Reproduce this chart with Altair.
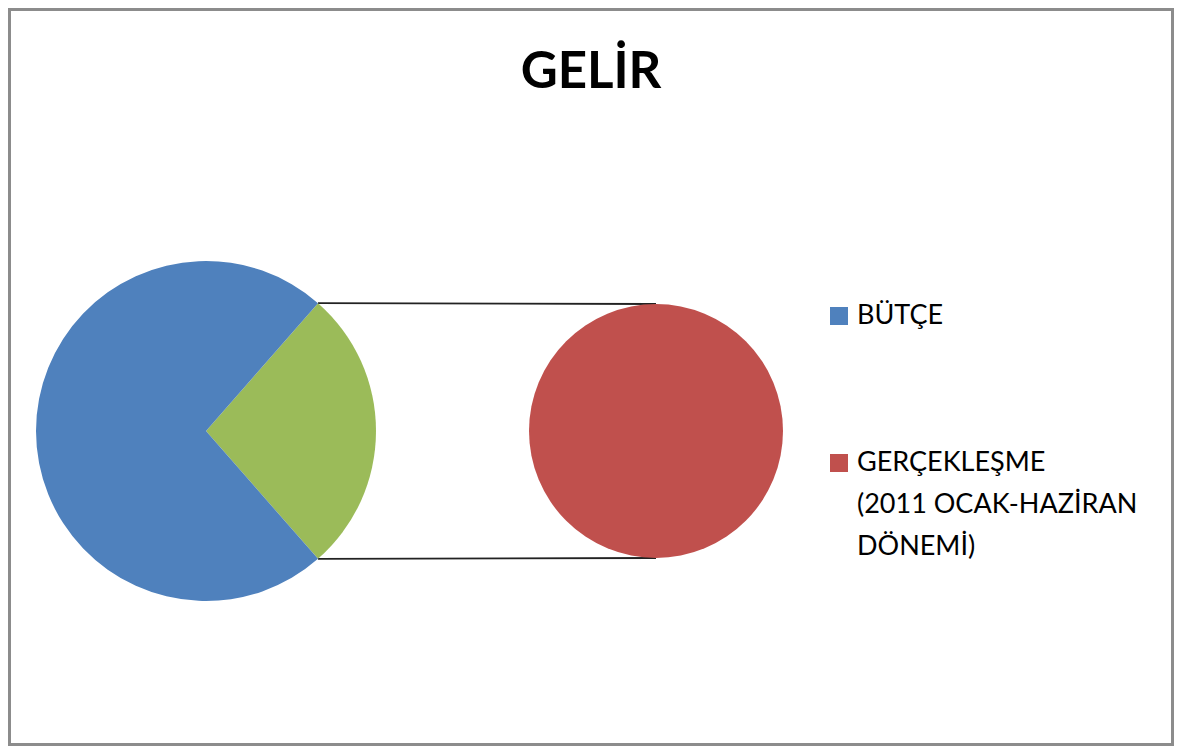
import math
import altair as alt
import pandas as pd

# ---- data -------------------------------------------------------------
TITLE = "GELİR"
categories = ["BÜTÇE", "GERÇEKLEŞME (2011 OCAK-HAZİRAN DÖNEMİ)"]
values = [72.9, 27.1]            # share of the whole
legend_labels = ["BÜTÇE", "GERÇEKLEŞME\n(2011 OCAK-HAZİRAN\nDÖNEMİ)"]
other_label = "Diğer"            # the slice of the first pie that is split out
colors = ["#4F81BD", "#C0504D", "#9BBB59"]

# ---- layout (pixels, chart-local) -------------------------------------
W, H = 1166, 738
P1 = dict(cx=198, cy=423, r=170)   # main pie
P2 = dict(cx=648, cy=423, r=127)   # secondary pie
LEG_X, LEG_TX = 831, 849
LEG_Y = [308, 455]
FONT = "Lato"

total = sum(values)
share = values[1] / total
start = math.pi / 2 - math.pi * share

main = pd.DataFrame({
    "cat": [other_label, categories[0]],
    "value": [values[1], values[0]],
    "ord": [0, 1],
})
second = pd.DataFrame({"cat": [categories[1]], "value": [values[1]], "ord": [0]})

color_scale = alt.Scale(domain=[categories[0], categories[1], other_label], range=colors)

pie1 = alt.Chart(main).mark_arc(stroke=None).encode(
    theta=alt.Theta("value:Q", stack=True,
                    scale=alt.Scale(domain=[0, total], range=[start, start + 2 * math.pi])),
    order=alt.Order("ord:Q"),
    color=alt.Color("cat:N", scale=color_scale, legend=None),
    x=alt.value(P1["cx"]), y=alt.value(P1["cy"]),
    radius=alt.value(P1["r"]),
)

pie2 = alt.Chart(second).mark_arc(stroke=None).encode(
    theta=alt.Theta("value:Q", stack=True,
                    scale=alt.Scale(domain=[0, values[1]], range=[0, 2 * math.pi])),
    order=alt.Order("ord:Q"),
    color=alt.Color("cat:N", scale=color_scale, legend=None),
    x=alt.value(P2["cx"]), y=alt.value(P2["cy"]),
    radius=alt.value(P2["r"]),
)

# connector lines: from the edges of the split-out slice to top/bottom of pie 2
a0, a1 = start, start + 2 * math.pi * share
conn = pd.DataFrame({
    "x": [P1["cx"] + P1["r"] * math.sin(a) for a in (a0, a1)],
    "y": [P1["cy"] - P1["r"] * math.cos(a) for a in (a0, a1)],
    "x2": [P2["cx"], P2["cx"]],
    "y2": [P2["cy"] - P2["r"], P2["cy"] + P2["r"]],
})
lines = alt.Chart(conn).mark_rule(color="#222222", strokeWidth=1.8).encode(
    x=alt.X("x:Q", scale=None), y=alt.Y("y:Q", scale=None),
    x2="x2:Q", y2="y2:Q",
)

title = alt.Chart(pd.DataFrame({"t": [TITLE]})).mark_text(
    font=FONT, fontSize=51, fontWeight="bold", color="#000000",
    align="center", baseline="alphabetic",
).encode(text="t:N", x=alt.value(W / 2), y=alt.value(80))

leg = pd.DataFrame({"cat": categories, "label": legend_labels, "y": LEG_Y})
leg_sq = alt.Chart(leg).mark_square(size=324, opacity=1, strokeWidth=0).encode(
    x=alt.value(LEG_X), y=alt.Y("y:Q", scale=None),
    color=alt.Color("cat:N", scale=color_scale, legend=None),
)
leg_tx = alt.Chart(leg).mark_text(
    font=FONT, fontSize=27, color="#000000", align="left", baseline="middle",
    lineBreak="\n", lineHeight=42,
).encode(x=alt.value(LEG_TX), y=alt.Y("y:Q", scale=None), text="label:N")

chart = alt.layer(lines, pie1, pie2, title, leg_sq, leg_tx).resolve_scale(
    theta="independent"
).properties(
    width=W, height=H, padding=0, autosize=alt.AutoSizeParams(type="none"),
    background="white",
).configure_view(stroke="#8c8c8c", strokeWidth=6)

chart.save("out.html", embed_options={"renderer": "svg", "actions": False})
